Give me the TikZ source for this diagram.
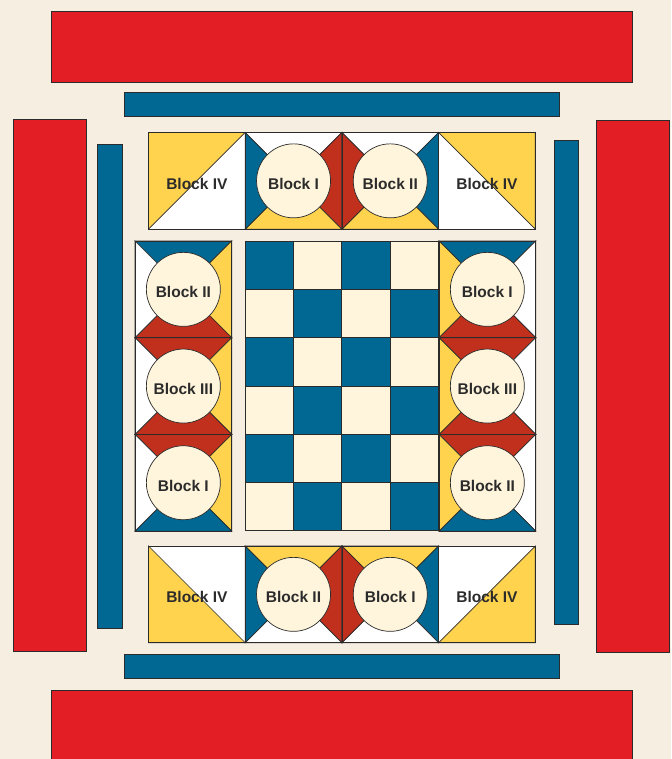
\documentclass[tikz,border=0pt]{standalone}
\usepackage{fontspec}
\setmainfont{Liberation Sans}
\usepackage{tikz}
\definecolor{paper}{HTML}{F6EEE1}
\definecolor{qred}{HTML}{E31E24}
\definecolor{qblue}{HTML}{006892}
\definecolor{qyellow}{HTML}{FFD34E}
\definecolor{qrust}{HTML}{C0301C}
\definecolor{qcream}{HTML}{FFF5DC}
\definecolor{qink}{HTML}{2B2B2B}

% block size and half size (px)
\def\bs{96.7}
\def\bh{48.35}

% square of four triangles with a medallion: x, y, top, right, bottom, left, name, label
\newcommand{\pinwheel}[8]{%
  \begin{scope}[shift={(#1,#2)}]
    \filldraw[patch, fill=#3] (0,0) -- (\bs,0) -- (\bh,\bh) -- cycle;
    \filldraw[patch, fill=#4] (\bs,0) -- (\bs,\bs) -- (\bh,\bh) -- cycle;
    \filldraw[patch, fill=#5] (\bs,\bs) -- (0,\bs) -- (\bh,\bh) -- cycle;
    \filldraw[patch, fill=#6] (0,\bs) -- (0,0) -- (\bh,\bh) -- cycle;
    \draw[patch] (0,0) rectangle (\bs,\bs);
    \node[medal] (#7) at (\bh,\bh) {#8};
  \end{scope}}

% half-square: x, y, three corners of the yellow half, name
\newcommand{\halfsquare}[6]{%
  \begin{scope}[shift={(#1,#2)}]
    \filldraw[patch, fill=white] (0,0) rectangle (\bs,\bs);
    \filldraw[patch, fill=qyellow] #3 -- #4 -- #5 -- cycle;
    \draw[patch] (0,0) rectangle (\bs,\bs);
    \node[tag] (#6) at (\bh,\bh) {Block IV};
  \end{scope}}

\begin{document}
\begin{tikzpicture}[
    x=1pt, y=-1pt,
    font=\fontsize{15.5}{18}\selectfont\bfseries,
    patch/.style={draw=qink, line width=0.7pt, line join=miter},
    bar/.style={draw=qink, line width=0.9pt},
    medal/.style={circle, draw=qink, fill=qcream, line width=0.7pt,
                  minimum size=74pt, inner sep=0pt, text=qink,
                  text height=16.5pt, text depth=0pt},
    tag/.style={inner sep=0pt, text=qink, text height=16.5pt, text depth=0pt}
]
  \clip (0,0) rectangle (671,759);
  \fill[paper] (0,0) rectangle (671,759);

  % outer border strips
  \filldraw[bar, fill=qred] (51,11) rectangle (632,82);
  \filldraw[bar, fill=qred] (51,690) rectangle (632,770);
  \filldraw[bar, fill=qred] (13,119) rectangle (86,651);
  \filldraw[bar, fill=qred] (596.5,120) rectangle (669,652);

  % inner border strips
  \filldraw[bar, fill=qblue] (124,92) rectangle (559.5,116);
  \filldraw[bar, fill=qblue] (124,654) rectangle (559.5,678);
  \filldraw[bar, fill=qblue] (97.5,144) rectangle (122.5,628);
  \filldraw[bar, fill=qblue] (554,140) rectangle (578.5,624);

  % top row
  \halfsquare{148.5}{132.5}{(0,0)}{(\bs,0)}{(0,\bs)}{top1}
  \pinwheel{245.2}{132.5}{white}{qrust}{qyellow}{qblue}{top2}{Block I}
  \pinwheel{341.9}{132.5}{white}{qblue}{qyellow}{qrust}{top3}{Block II}
  \halfsquare{438.6}{132.5}{(0,0)}{(\bs,0)}{(\bs,\bs)}{top4}

  % left column
  \pinwheel{135}{241}{qblue}{qyellow}{qrust}{white}{left1}{Block II}
  \pinwheel{135}{337.7}{qrust}{qyellow}{qrust}{white}{left2}{Block III}
  \pinwheel{135}{434.4}{qrust}{qyellow}{qblue}{white}{left3}{Block I}

  % centre checkerboard
  \foreach \r in {0,...,5}
    \foreach \c in {0,...,3}{
      \pgfmathtruncatemacro\parity{mod(\r+\c,2)}
      \ifnum\parity=0 \def\cellcol{qblue}\else\def\cellcol{qcream}\fi
      \filldraw[patch, fill=\cellcol] (245+48.3*\c,241+48.3*\r)
        rectangle ++(48.3,48.3);
    }
  \draw[patch] (245,241) rectangle (438.2,530.8);

  % right column
  \pinwheel{439}{241}{qblue}{white}{qrust}{qyellow}{right1}{Block I}
  \pinwheel{439}{337.7}{qrust}{white}{qrust}{qyellow}{right2}{Block III}
  \pinwheel{439}{434.4}{qrust}{white}{qblue}{qyellow}{right3}{Block II}

  % bottom row
  \halfsquare{148.5}{546}{(0,0)}{(0,\bs)}{(\bs,\bs)}{bot1}
  \pinwheel{245.2}{546}{qyellow}{qrust}{white}{qblue}{bot2}{Block II}
  \pinwheel{341.9}{546}{qyellow}{qblue}{white}{qrust}{bot3}{Block I}
  \halfsquare{438.6}{546}{(\bs,0)}{(\bs,\bs)}{(0,\bs)}{bot4}
\end{tikzpicture}
\end{document}
